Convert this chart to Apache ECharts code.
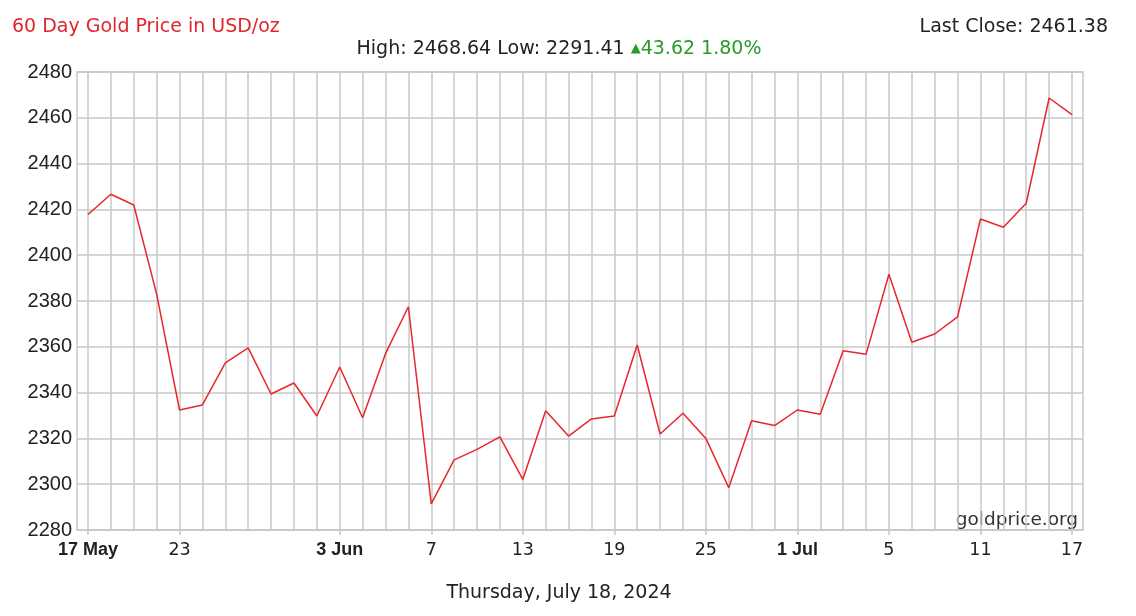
<!DOCTYPE html>
<html><head><meta charset="utf-8">
<script src="https://cdn.jsdelivr.net/npm/echarts@6/dist/echarts.min.js"></script>
<style>html,body{margin:0;padding:0;background:#fff}#c{width:1136px;height:616px}</style>
</head><body><div id="c"></div>
<script>
const dates = [
  '2024-05-17','2024-05-20','2024-05-21','2024-05-22','2024-05-23','2024-05-24',
  '2024-05-27','2024-05-28','2024-05-29','2024-05-30','2024-05-31',
  '2024-06-03','2024-06-04','2024-06-05','2024-06-06','2024-06-07',
  '2024-06-10','2024-06-11','2024-06-12','2024-06-13','2024-06-14',
  '2024-06-17','2024-06-18','2024-06-19','2024-06-20','2024-06-21',
  '2024-06-24','2024-06-25','2024-06-26','2024-06-27','2024-06-28',
  '2024-07-01','2024-07-02','2024-07-03','2024-07-04','2024-07-05',
  '2024-07-08','2024-07-09','2024-07-10','2024-07-11','2024-07-12',
  '2024-07-15','2024-07-16','2024-07-17'
];
const prices = [
  2417.76, 2426.6, 2421.9, 2383.0, 2332.4, 2334.6,
  2353.0, 2359.5, 2339.4, 2344.2, 2329.8,
  2351.2, 2329.0, 2357.0, 2377.5, 2291.41,
  2310.6, 2315.2, 2320.7, 2302.1, 2332.1,
  2321.0, 2328.5, 2329.8, 2360.8, 2321.9,
  2331.0, 2320.0, 2298.5, 2327.7, 2325.6,
  2332.4, 2330.5, 2358.3, 2356.7, 2391.7,
  2362.0, 2365.6, 2373.1, 2415.8, 2412.2,
  2422.7, 2468.64, 2461.38
];
const tickDates = ['2024-05-17','2024-05-23','2024-06-03','2024-06-07','2024-06-13','2024-06-19','2024-06-25','2024-07-01','2024-07-05','2024-07-11','2024-07-17'];
const tickTexts = ['17 May','23','3 Jun','7','13','19','25','1 Jul','5','11','17'];
const yMin = 2280, yMax = 2480, yStep = 20;
const titleText = '60 Day Gold Price in USD/oz';
const dateText = 'Thursday, July 18, 2024';
const sourceText = 'goldprice.org';

const hi = Math.max(...prices), lo = Math.min(...prices);
const last = prices[prices.length - 1], first = prices[0];
const chg = last - first, pct = chg / first * 100;

const GRID = '#c8c8c8';
const chart = echarts.init(document.getElementById('c'), null, {renderer: 'canvas'});
const isTick = (idx, val) => tickDates.indexOf(val) >= 0;

chart.setOption({
  animation: false,
  backgroundColor: '#fff',
  grid: [
    {left: 77, top: 72, width: 1006, height: 458, show: true, borderColor: GRID, borderWidth: 1.5, backgroundColor: 'transparent'},
    {left: 88, top: 72, width: 984, height: 458}
  ],
  xAxis: [
    {type: 'value', gridIndex: 0, show: false},
    {type: 'category', gridIndex: 1, data: dates, boundaryGap: false,
     axisLine: {show: true, lineStyle: {color: GRID, width: 1.5}},
     axisTick: {show: true, interval: isTick, length: 5, lineStyle: {color: GRID, width: 1.5}},
     axisLabel: {interval: isTick, margin: 11,
       formatter: v => { const t = tickTexts[tickDates.indexOf(v)]; return t.indexOf(' ') >= 0 ? '{b|' + t + '}' : '{r|' + t + '}'; },
       rich: {
         b: {fontFamily: 'Liberation Sans', fontWeight: 'bold', fontSize: 18, color: '#222'},
         r: {fontFamily: 'DejaVu Sans', fontSize: 17.5, color: '#222'}
       }},
     splitLine: {show: true, interval: 0, lineStyle: {color: GRID, width: 1.5}}
    }
  ],
  yAxis: [
    {type: 'value', gridIndex: 0, min: yMin, max: yMax, interval: yStep,
     axisLine: {show: false}, axisTick: {show: false},
     axisLabel: {fontFamily: 'Liberation Sans', fontSize: 20, color: '#222', margin: 5, formatter: v => String(v)},
     splitLine: {show: true, lineStyle: {color: GRID, width: 1.5}}},
    {type: 'value', gridIndex: 1, min: yMin, max: yMax, show: false, splitLine: {show: false}}
  ],
  series: [{
    type: 'line', xAxisIndex: 1, yAxisIndex: 1, data: prices,
    showSymbol: false, symbol: 'none',
    lineStyle: {color: '#e8262b', width: 1.5}, z: 5
  }],
  graphic: [
    {type: 'text', left: 12, top: 18, style: {text: titleText, fontFamily: 'DejaVu Sans', fontSize: 19, fill: '#e0262c'}},
    {type: 'text', right: 28, top: 18, style: {text: 'Last Close: ' + last.toFixed(2), fontFamily: 'DejaVu Sans', fontSize: 19, fill: '#222'}},
    {type: 'text', x: 559, y: 49, style: {
      text: '{k|High: ' + hi.toFixed(2) + ' Low: ' + lo.toFixed(2) + ' }{t|▲}{g|' + chg.toFixed(2) + ' ' + pct.toFixed(2) + '%}',
      align: 'center', verticalAlign: 'middle',
      rich: {
        k: {fontFamily: 'DejaVu Sans', fontSize: 19, fill: '#222', color: '#222'},
        t: {fontFamily: 'DejaVu Sans', fontSize: 13, fill: '#2a9a2a', color: '#2a9a2a'},
        g: {fontFamily: 'DejaVu Sans', fontSize: 19, fill: '#2a9a2a', color: '#2a9a2a'}
      }}},
    {type: 'text', right: 58, top: 511, style: {text: sourceText, fontFamily: 'DejaVu Sans', fontSize: 18.5, fill: '#333'}},
    {type: 'text', x: 559, y: 593, style: {text: dateText, fontFamily: 'DejaVu Sans', fontSize: 19, fill: '#222', align: 'center', verticalAlign: 'middle'}}
  ]
});
</script></body></html>
